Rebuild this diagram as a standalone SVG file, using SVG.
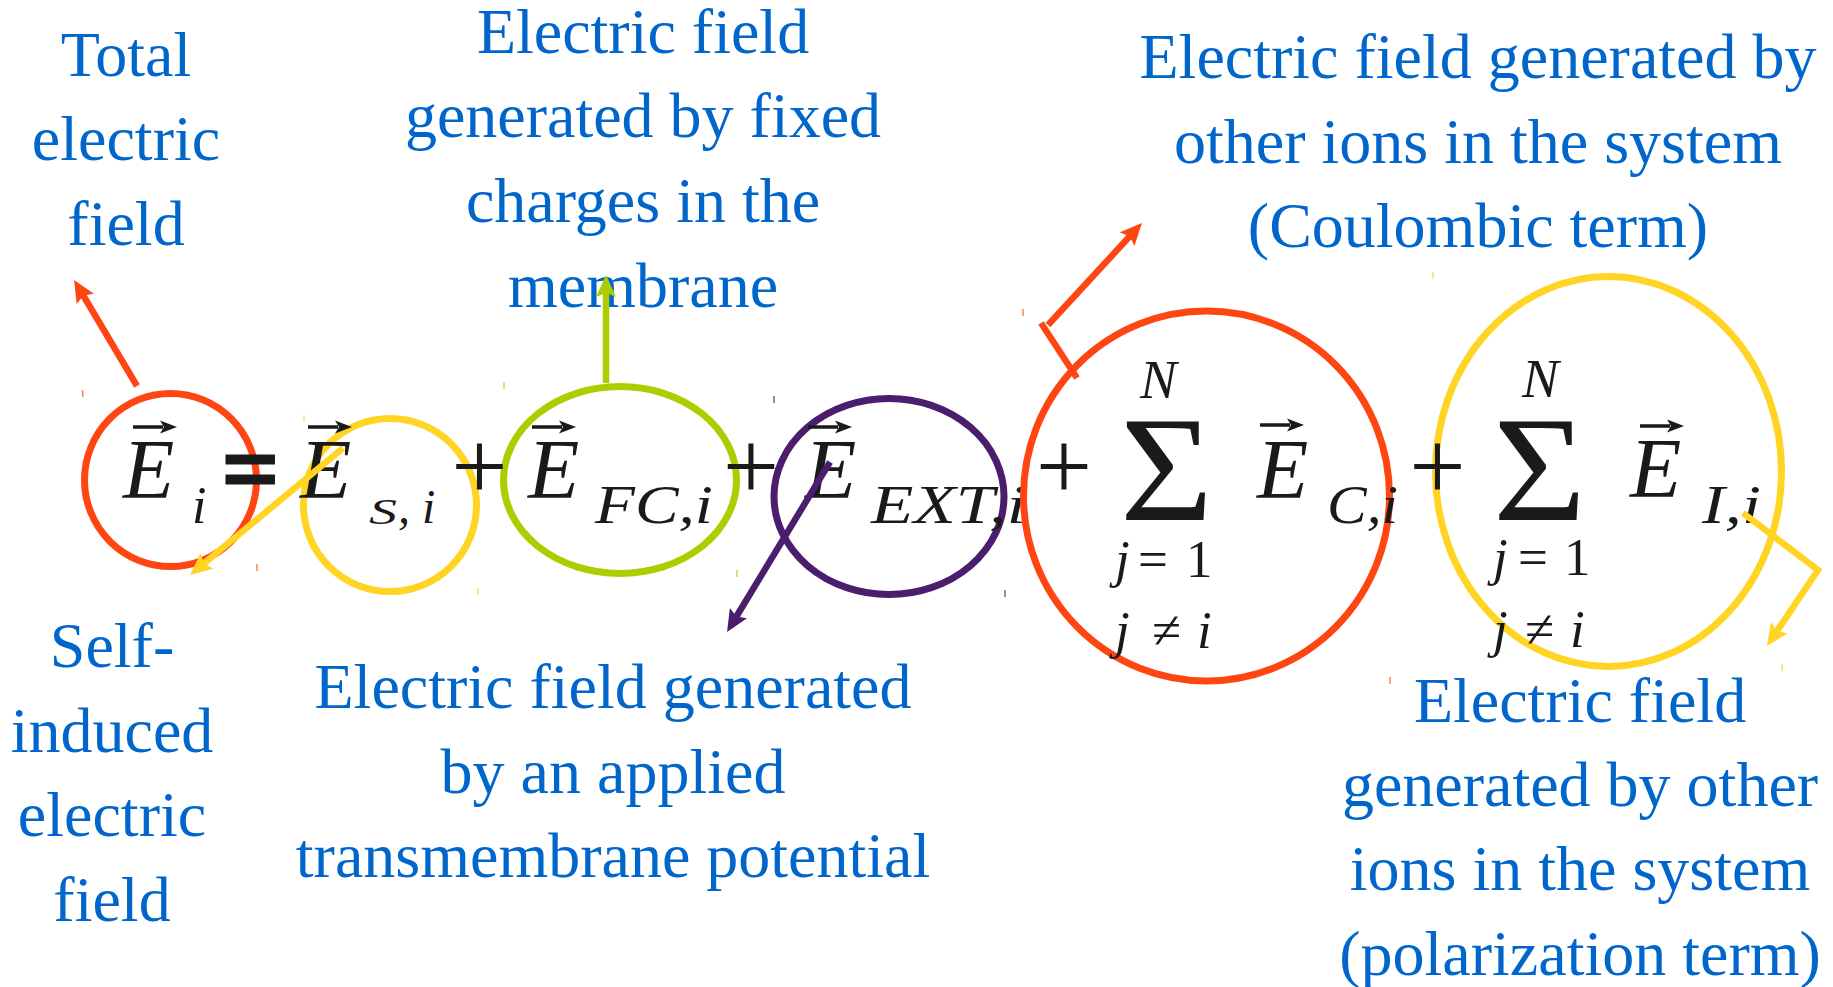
<svg xmlns="http://www.w3.org/2000/svg" width="1833" height="987" viewBox="0 0 1833 987">
<style>
.lbl{font-family:"Liberation Serif","Times New Roman",serif;font-size:64px;fill:#0066CC;text-anchor:middle}
.m{font-family:"Liberation Serif","Times New Roman",serif;font-style:italic;fill:#1a1a1a}
.big{font-size:84px}
.sub{font-size:54px}
.lim{font-size:53px}
.n{font-style:normal}
.up{font-family:"Liberation Serif","Times New Roman",serif;fill:#1a1a1a;text-anchor:middle}
.sig{font-family:"Liberation Serif","Times New Roman",serif;fill:#1a1a1a;font-size:150px}
.ring{fill:none;stroke-width:7}
.con{fill:none;stroke-width:6.5;stroke-linecap:butt}
.tick{stroke-width:1.5;opacity:0.7}
.red{stroke:#FF4612}.yel{stroke:#FFD422}.grn{stroke:#ADCD00}.pur{stroke:#4A1D6D}
</style>
<defs>
<path id="vec" d="M0 -1.8 H30 V1.8 H0 Z M27 -6.5 L44 0 L27 6.5 L31 0 Z" fill="#1a1a1a"/>
<marker id="hRed" viewBox="0 0 22 20" refX="8" refY="10" markerWidth="22" markerHeight="20" markerUnits="userSpaceOnUse" orient="auto"><path d="M0 0 L22 10 L0 20 L4 10 Z" fill="#FF4612"/></marker>
<marker id="hYel" viewBox="0 0 22 20" refX="8" refY="10" markerWidth="22" markerHeight="20" markerUnits="userSpaceOnUse" orient="auto"><path d="M0 0 L22 10 L0 20 L4 10 Z" fill="#FFD422"/></marker>
<marker id="hGrn" viewBox="0 0 22 20" refX="8" refY="10" markerWidth="22" markerHeight="20" markerUnits="userSpaceOnUse" orient="auto"><path d="M0 0 L22 10 L0 20 L4 10 Z" fill="#ADCD00"/></marker>
<marker id="hPur" viewBox="0 0 22 20" refX="8" refY="10" markerWidth="22" markerHeight="20" markerUnits="userSpaceOnUse" orient="auto"><path d="M0 0 L22 10 L0 20 L4 10 Z" fill="#4A1D6D"/></marker>
</defs>
<rect width="1833" height="987" fill="#ffffff"/>

<!-- labels -->
<g id="label-total">
<text class="lbl" x="126" y="76">Total</text>
<text class="lbl" x="126" y="160">electric</text>
<text class="lbl" x="126" y="245">field</text>
</g>
<g id="label-fixed">
<text class="lbl" x="643" y="53">Electric field</text>
<text class="lbl" x="643" y="137">generated by fixed</text>
<text class="lbl" x="643" y="222">charges in the</text>
<text class="lbl" x="643" y="307">membrane</text>
</g>
<g id="label-coulomb">
<text class="lbl" x="1478" y="78">Electric field generated by</text>
<text class="lbl" x="1478" y="163">other ions in the system</text>
<text class="lbl" x="1478" y="247">(Coulombic term)</text>
</g>
<g id="label-self">
<text class="lbl" x="112" y="667">Self-</text>
<text class="lbl" x="112" y="752">induced</text>
<text class="lbl" x="112" y="836">electric</text>
<text class="lbl" x="112" y="921">field</text>
</g>
<g id="label-applied">
<text class="lbl" x="613" y="708">Electric field generated</text>
<text class="lbl" x="613" y="793">by an applied</text>
<text class="lbl" x="613" y="877">transmembrane potential</text>
</g>
<g id="label-polar">
<text class="lbl" x="1580" y="722">Electric field</text>
<text class="lbl" x="1580" y="806">generated by other</text>
<text class="lbl" x="1580" y="890">ions in the system</text>
<text class="lbl" x="1580" y="975">(polarization term)</text>
</g>

<!-- equation terms -->
<g id="term-Ei">
<ellipse class="ring red" cx="170.5" cy="480" rx="86" ry="86.5"/>
<line class="tick red" x1="82.7" y1="390" x2="82.7" y2="397"/>
<line class="tick red" x1="257" y1="564" x2="257" y2="571"/>
<use href="#vec" x="133" y="427"/>
<text class="m big" x="123" y="498">E</text>
<text class="m" x="192" y="523" font-size="52">i</text>
</g>
<g id="term-ES">
<ellipse class="ring yel" cx="390" cy="505" rx="86.5" ry="86.5"/>
<line class="tick yel" x1="304" y1="415" x2="304" y2="422"/>
<line class="tick yel" x1="478" y1="588" x2="478" y2="595"/>
<use href="#vec" x="308" y="427"/>
<text class="m big" x="300" y="498">E</text>
<text class="m" x="369" y="524" font-size="35" textLength="28" lengthAdjust="spacingAndGlyphs">S</text>
<text class="m" x="398 422" y="523" font-size="48">,i</text>
</g>
<g id="term-EFC">
<ellipse class="ring grn" cx="620" cy="480" rx="116.5" ry="93.5"/>
<line class="tick grn" x1="504" y1="382" x2="504" y2="389"/>
<line class="tick grn" x1="737" y1="570" x2="737" y2="577"/>
<use href="#vec" x="532" y="427"/>
<text class="m big" x="528" y="498">E</text>
<text class="m sub" x="595" y="523" textLength="118" lengthAdjust="spacingAndGlyphs">FC,i</text>
</g>
<g id="term-EEXT">
<ellipse class="ring pur" cx="889" cy="496.5" rx="115" ry="98"/>
<line class="tick pur" x1="774" y1="396" x2="774" y2="403"/>
<line class="tick pur" x1="1005" y1="590" x2="1005" y2="597"/>
<use href="#vec" x="808" y="427"/>
<text class="m big" x="805" y="498">E</text>
<text class="m sub" x="871" y="523" textLength="155" lengthAdjust="spacingAndGlyphs">EXT,i</text>
</g>
<g id="term-EC">
<ellipse class="ring red" cx="1206.5" cy="496" rx="183" ry="185"/>
<line class="tick red" x1="1023" y1="309" x2="1023" y2="316"/>
<line class="tick red" x1="1390" y1="677" x2="1390" y2="684"/>
<text class="m" x="1140" y="398" font-size="55">N</text>
<text class="sig" x="1120" y="520" textLength="93" lengthAdjust="spacingAndGlyphs">Σ</text>
<text class="m lim" y="577"><tspan x="1115">j</tspan><tspan class="n" x="1138">=</tspan><tspan class="n" x="1186">1</tspan></text>
<text class="m lim" y="648"><tspan x="1115">j</tspan><tspan class="n" x="1152">≠</tspan><tspan x="1197">i</tspan></text>
<use href="#vec" x="1260" y="425"/>
<text class="m big" x="1257" y="498">E</text>
<text class="m sub" x="1327" y="523" textLength="71" lengthAdjust="spacingAndGlyphs">C,i</text>
</g>
<g id="term-EI">
<ellipse class="ring yel" cx="1608.5" cy="471.5" rx="173" ry="195"/>
<line class="tick yel" x1="1433" y1="272" x2="1433" y2="279"/>
<line class="tick yel" x1="1782" y1="664" x2="1782" y2="671"/>
<text class="m" x="1522" y="397" font-size="55">N</text>
<text class="sig" x="1493" y="520" textLength="93" lengthAdjust="spacingAndGlyphs">Σ</text>
<text class="m lim" y="575"><tspan x="1493">j</tspan><tspan class="n" x="1518">=</tspan><tspan class="n" x="1564">1</tspan></text>
<text class="m lim" y="647"><tspan x="1493">j</tspan><tspan class="n" x="1525">≠</tspan><tspan x="1570">i</tspan></text>
<use href="#vec" x="1640" y="426"/>
<text class="m big" x="1630" y="497">E</text>
<text class="m sub" x="1702" y="523" textLength="59" lengthAdjust="spacingAndGlyphs">I,i</text>
</g>
<g id="operators">
<text class="up" x="250.5" y="503" font-size="100" font-weight="bold" stroke="#1a1a1a" stroke-width="3">=</text>
<text class="up" x="479.5" y="500" font-size="100">+</text>
<text class="up" x="751" y="500" font-size="100">+</text>
<text class="up" x="1064" y="500" font-size="100">+</text>
<text class="up" x="1437.5" y="500" font-size="100">+</text>
</g>

<!-- connectors -->
<g id="connectors">
<line class="con red" x1="137" y1="386" x2="81.2" y2="292" marker-end="url(#hRed)"/>
<line class="con yel" x1="343" y1="448" x2="200.8" y2="566.1" marker-end="url(#hYel)"/>
<line class="con grn" x1="606" y1="383" x2="606" y2="289" marker-end="url(#hGrn)"/>
<line class="con pur" x1="830" y1="462" x2="734.3" y2="620" marker-end="url(#hPur)"/>
<path class="con red" d="M1077 378 L1041 323 M1048 325 L1132.5 233.3" marker-end="url(#hRed)"/>
<polyline class="con yel" points="1743,513 1818,570 1774.8,634.4" marker-end="url(#hYel)"/>
</g>
</svg>
